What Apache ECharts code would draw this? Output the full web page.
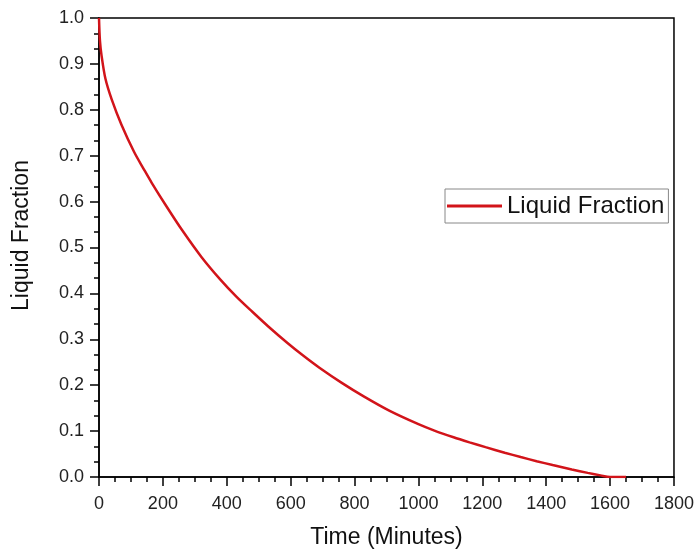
<!DOCTYPE html>
<html>
<head>
<meta charset="utf-8">
<script src="https://cdn.jsdelivr.net/npm/echarts@6/dist/echarts.min.js"></script>
<style>html,body{margin:0;padding:0;background:#fff}#c{width:697px;height:554px}</style>
</head>
<body>
<div id="c"></div>
<script>
var timeMinutes = [0, 3, 8, 20, 40, 70, 110, 140, 165, 210, 260, 320, 380, 430, 480, 530, 590, 640, 690, 760, 830, 910, 1000, 1050, 1110, 1160, 1210, 1270, 1320, 1370, 1420, 1480, 1530, 1570, 1600, 1650];
var liquidFraction = [1.0, 0.95, 0.918, 0.868, 0.822, 0.768, 0.708, 0.671, 0.641, 0.591, 0.538, 0.48, 0.43, 0.393, 0.36, 0.328, 0.292, 0.264, 0.238, 0.205, 0.175, 0.144, 0.115, 0.101, 0.0865, 0.0755, 0.065, 0.053, 0.0435, 0.0345, 0.026, 0.0165, 0.009, 0.0035, 0.0, 0.0];
var seriesName = 'Liquid Fraction';
var xTitle = 'Time (Minutes)';
var yTitle = 'Liquid Fraction';

var font = 'Arial, "Liberation Sans", sans-serif';
var chart = echarts.init(document.getElementById('c'), null, {renderer: 'canvas'});
chart.setOption({
  animation: false,
  backgroundColor: '#fff',
  grid: {left: 99, right: 23, top: 18, bottom: 73, show: true, borderColor: '#000', borderWidth: 1.5, backgroundColor: 'transparent'},
  legend: {
    left: 445, top: 189,
    padding: [5, 4, 5, 2],
    borderColor: '#888', borderWidth: 1,
    itemWidth: 55, itemHeight: 3,
    icon: 'rect',
    textStyle: {fontSize: 24, color: '#111', fontFamily: font},
    data: [seriesName]
  },
  xAxis: {
    type: 'value', min: 0, max: 1800, interval: 200,
    name: xTitle, nameLocation: 'middle', nameGap: 49,
    nameTextStyle: {fontSize: 23, color: '#111', fontFamily: font},
    axisLine: {lineStyle: {color: '#000', width: 1.5}},
    axisTick: {show: true, length: 9, lineStyle: {color: '#000', width: 1.5}},
    minorTick: {show: true, splitNumber: 4, length: 5, lineStyle: {color: '#000', width: 1.5}},
    axisLabel: {fontSize: 18, color: '#222', margin: 18, fontFamily: font, formatter: function (v) { return String(v); }},
    splitLine: {show: false}
  },
  yAxis: {
    type: 'value', min: 0, max: 1, interval: 0.1,
    name: yTitle, nameLocation: 'middle', nameGap: 66,
    nameTextStyle: {fontSize: 23, color: '#111', fontFamily: font, padding: [0, 0, 0, 24]},
    axisLine: {show: true, lineStyle: {color: '#000', width: 1.5}},
    axisTick: {show: true, length: 9, lineStyle: {color: '#000', width: 1.5}},
    minorTick: {show: true, splitNumber: 3, length: 5, lineStyle: {color: '#000', width: 1.5}},
    axisLabel: {fontSize: 18, color: '#222', margin: 15, fontFamily: font, formatter: function (v) { return v.toFixed(1); }},
    splitLine: {show: false}
  },
  series: [{
    name: seriesName,
    type: 'line',
    data: timeMinutes.map(function (t, i) { return [t, liquidFraction[i]]; }),
    symbol: 'none',
    smooth: 0.3,
    lineStyle: {color: '#d2141a', width: 2.5},
    itemStyle: {color: '#d2141a'}
  }]
});
</script>
</body>
</html>
